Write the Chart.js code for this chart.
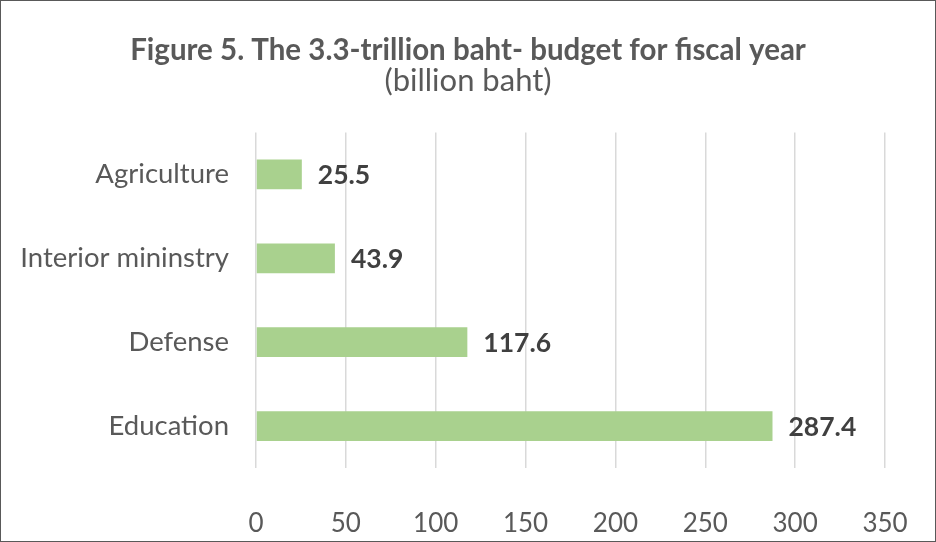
<!DOCTYPE html>
<html>
<head>
<meta charset="utf-8">
<script src="https://cdn.jsdelivr.net/npm/chart.js@4.4.1/dist/chart.umd.min.js"></script>
<style>
  html, body { margin: 0; padding: 0; background: #fff; }
  #wrap { width: 936px; height: 542px; box-sizing: border-box; border: 1px solid #595959; }
  canvas { display: block; }
</style>
</head>
<body>
<div id="wrap"><canvas id="budget-chart" width="934" height="540"></canvas></div>
<script>
const categories = ['Agriculture', 'Interior mininstry', 'Defense', 'Education'];
const budget = [25.5, 43.9, 117.6, 287.4];
const xTicks = [0, 50, 100, 150, 200, 250, 300, 350];

const fontFamily = 'Lato, "Open Sans", sans-serif';

// value labels next to the end of each bar
const barLabels = {
  id: 'barLabels',
  afterDatasetsDraw(chart) {
    const ctx = chart.ctx;
    const meta = chart.getDatasetMeta(0);
    ctx.save();
    ctx.font = 'bold 26.5px ' + fontFamily;
    ctx.fillStyle = '#404040';
    ctx.textAlign = 'left';
    ctx.textBaseline = 'middle';
    meta.data.forEach((bar, i) => {
      ctx.fillText(budget[i].toFixed(1), bar.x + 16, bar.y + 1);
    });
    ctx.restore();
  }
};

const chart = new Chart(document.getElementById('budget-chart'), {
  type: 'bar',
  data: {
    labels: categories,
    datasets: [{
      data: budget,
      backgroundColor: '#a9d18e',
      borderWidth: 0,
      barPercentage: 0.5,
      categoryPercentage: 0.71
    }]
  },
  options: {
    indexAxis: 'y',
    responsive: false,
    animation: false,
    layout: { padding: 0 },
    plugins: {
      legend: { display: false },
      tooltip: { enabled: false },
      title: {
        display: true,
        text: 'Figure 5. The 3.3-trillion baht- budget for fiscal year',
        color: '#595959',
        font: { family: fontFamily, size: 29.5, weight: 'bold', lineHeight: 1.0 },
        padding: { top: 35, bottom: 0 }
      },
      subtitle: {
        display: true,
        text: '(billion baht)',
        color: '#595959',
        font: { family: fontFamily, size: 31, lineHeight: 1.0 },
        padding: { top: 0, bottom: 36 }
      }
    },
    scales: {
      x: {
        min: 0,
        max: 350,
        afterBuildTicks: (axis) => { axis.ticks = xTicks.map(v => ({ value: v })); },
        afterFit: (axis) => { axis.height = 73; axis.paddingLeft = 0; axis.paddingRight = 50; },
        grid: { color: '#d9d9d9', lineWidth: 1.5, drawTicks: false },
        border: { display: false },
        ticks: { color: '#595959', font: { family: fontFamily, size: 26 }, padding: 40 }
      },
      y: {
        grid: { display: false },
        border: { display: false },
        afterFit: (axis) => { axis.width = 255; },
        ticks: { color: '#595959', font: { family: fontFamily, size: 27.5 }, padding: 19 }
      }
    }
  },
  plugins: [barLabels]
});
</script>
</body>
</html>
